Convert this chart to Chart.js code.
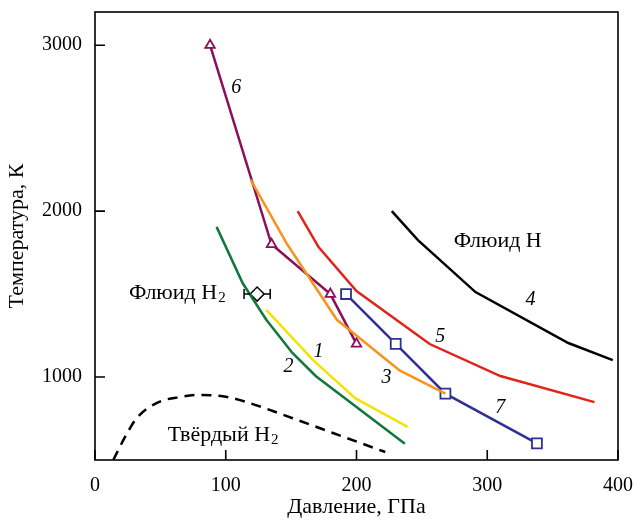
<!DOCTYPE html>
<html>
<head>
<meta charset="utf-8">
<script src="https://cdn.jsdelivr.net/npm/chart.js@4"></script>
<style>
  body { margin: 0; background: #fff; }
  #wrap { width: 635px; height: 520px; }
</style>
</head>
<body>
<div id="wrap"><canvas id="phaseChart" width="635" height="520"></canvas></div>
<script>
// === данные (давление, ГПа / температура, К) ===
const xTicks = [0, 100, 200, 300, 400];
const yTicks = [1000, 2000, 3000];

const p1 = [131, 167, 199, 239];
const t1 = [1405, 1100, 873, 700];
const p2 = [93, 113, 131, 151, 169, 237];
const t2 = [1905, 1565, 1345, 1145, 1005, 598];
const p3 = [119, 147, 185, 233, 268];
const t3 = [2190, 1800, 1345, 1040, 900];
const p4 = [227, 247, 291, 362, 396];
const t4 = [2000, 1825, 1512, 1205, 1102];
const p5 = [155, 171, 200, 256, 310, 382];
const t5 = [2000, 1783, 1518, 1199, 1006, 849];
const p6 = [88, 135, 180, 200];
const t6 = [3000, 1800, 1500, 1200];
const p7 = [192, 230, 268, 338];
const t7 = [1500, 1200, 900, 600];
// граница твёрдого H2 (штриховая)
const pSolid = [14, 23, 32, 47, 65, 80, 101, 116, 136, 157, 182, 222];
const tSolid = [500, 639, 753, 843, 880, 892, 880, 849, 795, 735, 663, 548];
// эксперимент с погрешностью
const pExp = [124];
const tExp = [1500];
const pErr = [10];

const serif = "'Liberation Serif', 'Times New Roman', serif";
const pts = (xs, ys) => xs.map((x, i) => ({ x: x, y: ys[i] }));

function line(xs, ys, color, extra) {
  return Object.assign({
    data: pts(xs, ys),
    showLine: true,
    borderColor: color,
    backgroundColor: color,
    borderWidth: 2.5,
    pointRadius: 0,
    tension: 0
  }, extra || {});
}

// подписи на поле графика
const notes = [
  { t: '6', x: 108, y: 2741, italic: true },
  { t: '4', x: 333, y: 1464, italic: true },
  { t: '5', x: 264, y: 1241, italic: true },
  { t: '3', x: 223, y: 994, italic: true },
  { t: '7', x: 310, y: 813, italic: true },
  { t: '1', x: 171, y: 1151, italic: true },
  { t: '2', x: 148, y: 1060, italic: true },
  { t: 'Флюид H', x: 308, y: 1819 },
  { t: 'Флюид H', sub: '2', x: 63, y: 1506 },
  { t: 'Твёрдый H', sub: '2', x: 98, y: 651 }
];

const framePlugin = {
  id: 'frame',
  afterDatasetsDraw(chart) {
    const { ctx, chartArea: a, scales: { x, y } } = chart;
    ctx.save();
    // погрешность
    ctx.strokeStyle = '#000';
    ctx.lineWidth = 1.5;
    pExp.forEach((p, i) => {
      const py = y.getPixelForValue(tExp[i]);
      const l = x.getPixelForValue(p - pErr[i]);
      const r = x.getPixelForValue(p + pErr[i]);
      const c = x.getPixelForValue(p);
      ctx.beginPath();
      ctx.moveTo(l, py); ctx.lineTo(c - 7, py);
      ctx.moveTo(c + 7, py); ctx.lineTo(r, py);
      ctx.moveTo(l, py - 5); ctx.lineTo(l, py + 5);
      ctx.moveTo(r, py - 5); ctx.lineTo(r, py + 5);
      ctx.stroke();
    });
    // рамка и внутренние засечки
    ctx.lineWidth = 1.6;
    ctx.strokeRect(a.left, a.top, a.right - a.left, a.bottom - a.top);
    ctx.beginPath();
    xTicks.forEach(v => {
      const px = x.getPixelForValue(v);
      ctx.moveTo(px, a.bottom); ctx.lineTo(px, a.bottom - 10);
    });
    yTicks.forEach(v => {
      const py = y.getPixelForValue(v);
      ctx.moveTo(a.left, py); ctx.lineTo(a.left + 10, py);
    });
    ctx.stroke();
    // подписи
    ctx.fillStyle = '#000';
    ctx.textBaseline = 'middle';
    notes.forEach(n => {
      const px = x.getPixelForValue(n.x);
      const py = y.getPixelForValue(n.y);
      const f = n.italic ? 'italic 20px ' + serif : '22px ' + serif;
      ctx.font = f;
      const w = ctx.measureText(n.t).width;
      let sw = 0;
      if (n.sub) {
        ctx.font = '15px ' + serif;
        sw = ctx.measureText(n.sub).width + 1;
      }
      const x0 = px - (w + sw) / 2;
      ctx.textAlign = 'left';
      ctx.font = f;
      ctx.fillText(n.t, x0, py);
      if (n.sub) {
        ctx.font = '15px ' + serif;
        ctx.fillText(n.sub, x0 + w + 1, py + 5);
      }
    });
    ctx.restore();
  }
};

// убираем автоматические поля под крайние подписи
function noPad(s) {
  s.paddingLeft = s.paddingRight = s.paddingTop = s.paddingBottom = 0;
}

new Chart(document.getElementById('phaseChart'), {
  type: 'scatter',
  data: {
    datasets: [
      line(pSolid, tSolid, '#000', { borderDash: [10, 7], cubicInterpolationMode: 'monotone' }),
      line(p2, t2, '#13763a'),
      line(p1, t1, '#f2e400'),
      line(p3, t3, '#f7941d'),
      line(p5, t5, '#e2231a'),
      line(p4, t4, '#000'),
      line(p7, t7, '#2e3192', {
        pointStyle: 'rect', pointRadius: 7, pointBackgroundColor: '#fff',
        pointBorderColor: '#2e3192', pointBorderWidth: 1.8
      }),
      line(p6, t6, '#8b0f5a', {
        pointStyle: 'triangle', pointRadius: 5.5, pointBackgroundColor: '#fff',
        pointBorderColor: '#8b0f5a', pointBorderWidth: 1.8
      }),
      {
        data: pts(pExp, tExp),
        showLine: false,
        pointStyle: 'rectRot',
        pointRadius: 7,
        pointBackgroundColor: '#fff',
        pointBorderColor: '#000',
        pointBorderWidth: 1.5
      }
    ]
  },
  options: {
    responsive: false,
    animation: false,
    layout: { padding: { top: 12, right: 17, left: 0, bottom: 0 } },
    plugins: { legend: { display: false }, tooltip: { enabled: false } },
    scales: {
      x: {
        type: 'linear',
        min: 0, max: 400,
        afterFit: s => { s.height = 60; noPad(s); },
        afterBuildTicks: s => { s.ticks = xTicks.map(v => ({ value: v })); },
        grid: { display: false, drawTicks: false },
        border: { display: false },
        ticks: {
          color: '#000', padding: 14, maxRotation: 0,
          font: { family: serif, size: 20 },
          callback: v => String(v)
        },
        title: {
          display: true, text: 'Давление, ГПа', color: '#000',
          padding: { top: 0, bottom: 0 }, font: { family: serif, size: 22 }
        }
      },
      y: {
        type: 'linear',
        min: 500, max: 3200,
        afterFit: s => { s.width = 95; noPad(s); },
        afterBuildTicks: s => { s.ticks = yTicks.map(v => ({ value: v })); },
        grid: { display: false, drawTicks: false },
        border: { display: false },
        ticks: {
          color: '#000', padding: 13,
          font: { family: serif, size: 20 },
          callback: v => String(v)
        },
        title: {
          display: true, text: 'Температура, К', color: '#000',
          padding: { top: 4, bottom: 0 }, font: { family: serif, size: 22 }
        }
      }
    }
  },
  plugins: [framePlugin]
});
</script>
</body>
</html>
